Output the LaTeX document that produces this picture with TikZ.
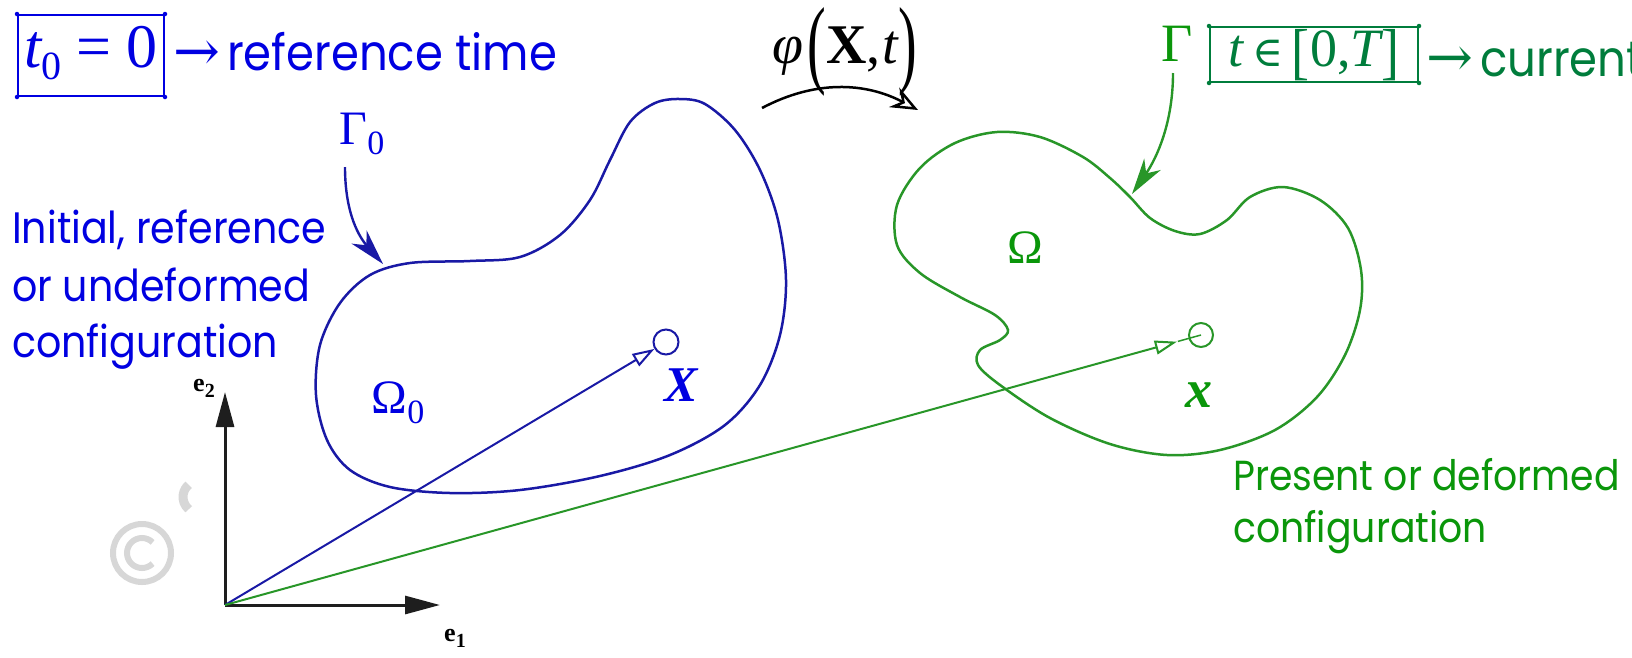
\documentclass[tikz,border=0pt]{standalone}
\usepackage{fontspec}
\usepackage{graphicx}
\usetikzlibrary{arrows.meta,calc}
\newfontfamily\fut[FakeStretch=0.9]{Poppins}
\newfontfamily\tms{Liberation Serif}
\newfontfamily\dvs{DejaVu Serif}
\newcommand\fsz[1]{\fontsize{#1}{#1}\selectfont}
\definecolor{tblue}{RGB}{0,0,225}
\definecolor{cblue}{RGB}{25,25,165}
\definecolor{tgreen}{RGB}{10,150,10}
\definecolor{cgreen}{RGB}{40,150,40}
\definecolor{dgreen}{RGB}{0,125,60}
\definecolor{axiscol}{RGB}{30,30,30}
\definecolor{wmcol}{RGB}{215,215,215}
\tikzset{
  curveline/.style={line width=2.5},
  vecline/.style={line width=2},
  openhead/.style={-{Triangle[open,length=22pt,width=14pt]}},
  bighead/.style={-{Stealth[length=36pt,width=20pt,inset=11pt]}},
  axisline/.style={axiscol,line width=3,-{Triangle[length=35pt,width=18pt]}},
  txt/.style={font=\fut\fsz{44},anchor=base west,inner sep=0},
  framebox/.style={line width=2,inner sep=0},
  cornerdot/.style={circle,fill,inner sep=0,minimum size=4.5},
  ptcircle/.style={circle,draw,line width=2,inner sep=0,minimum size=25},
  symlab/.style={inner sep=0}
}
\begin{document}
\begin{tikzpicture}[x=1pt,y=-1pt]
\useasboundingbox (0,0) rectangle (1632,657);

% watermark remnant
\draw[wmcol,line width=6] (142,553) circle[radius=29];
\draw[wmcol,line width=6] (142,553) ++(45:15) arc[start angle=45,end angle=315,radius=15];
\draw[wmcol,line width=9] (199,497) ++(130:16) arc[start angle=130,end angle=230,radius=16];

% boundaries
\draw[cblue,curveline] plot[smooth cycle,tension=0.55] coordinates {
 (655,103) (680,99) (705,104) (735,130) (760,170) (778,220) (786,280)
 (780,335) (760,385) (725,425) (670,455) (600,476) (520,490) (450,493)
 (390,487) (350,470) (327,440) (316,395) (320,345) (340,303) (370,275)
 (410,263) (470,261) (520,257) (560,235) (590,200) (610,160) (630,122)};
\draw[cgreen,curveline] plot[smooth cycle,tension=0.55] coordinates {
 (997,132) (1040,137) (1083,157) (1110,178) (1130,197) (1150,218) (1175,231)
 (1200,234) (1227,220) (1250,197) (1283,187) (1320,200) (1348,228) (1361,270)
 (1360,310) (1345,355) (1317,397) (1275,430) (1220,450) (1167,455) (1110,444)
 (1050,418) (1000,385) (978,365) (980,350) (1000,340) (1008,330) (995,315)
 (960,297) (920,273) (897,245) (897,205) (920,168) (955,143)};

% axes
\coordinate (O) at (225,605);
\coordinate (e2tip) at (225,392);
\coordinate (e1tip) at (440,605);
\draw[axisline] (O) -- (e2tip);
\draw[axisline] (O) -- (e1tip);
\node[symlab,font=\tms\bfseries\fsz{26}] (e2lab) at (204,388) {e\raisebox{-6pt}{\fsz{20}2}};
\node[symlab,font=\tms\bfseries\fsz{26}] (e1lab) at (455,638) {e\raisebox{-6pt}{\fsz{20}1}};

% material points
\node[ptcircle,cblue] (Xc) at (666,342) {};
\node[ptcircle,cgreen,minimum size=24] (xc) at (1201,335) {};
\draw[cblue,vecline,openhead] (O) -- (Xc);
\draw[cgreen,vecline,openhead,shorten >=12pt] (O) -- (xc);
\draw[cgreen,line width=1.5] ($(xc.center)!24pt!(O)$) -- (xc.center);

% Gamma arrows
\coordinate (g0s) at (345,167);
\coordinate (g0e) at (383,264);
\draw[cblue,line width=2.4,bighead] (g0s) .. controls (345,215) and (360,238) .. (g0e);
\coordinate (gs) at (1173,73);
\coordinate (ge) at (1132,194);
\draw[cgreen,line width=2.4,bighead] (gs) .. controls (1173,130) and (1152,165) .. (ge);

% mapping arrow
\coordinate (ms) at (762,108);
\coordinate (me) at (918,110);
\draw[black,line width=2.5,-{Stealth[open,length=27pt,width=22pt,inset=9pt]}] (ms) .. controls (815,80) and (865,82) .. (me);

% labels
\node[symlab,text=tblue,font=\tms\fsz{48}] (G0) at (362,134) {Γ\raisebox{-10pt}{\fsz{34}0}};
\node[symlab,text=tblue,font=\tms\fsz{48}] (O0) at (398,403) {Ω\raisebox{-10pt}{\fsz{34}0}};
\node[symlab,text=tblue,font=\tms\bfseries\itshape\fsz{50}] (Xlab) at (681,385) {X};
\node[symlab,text=tgreen,font=\tms\fsz{54}] (G) at (1177,44) {Γ};
\node[symlab,text=tgreen,font=\tms\fsz{48}] (Om) at (1025,248) {Ω};
\node[symlab,text=tgreen,font=\tms\bfseries\itshape\fsz{54}] (xlab) at (1199,395) {x};

\node[symlab,font=\tms\fsz{56}] (phi) at (845,52) {{\itshape φ}\hspace{4pt}\raisebox{-12pt}{\scalebox{1}[1.75]{(}}{\bfseries X},\hspace{2pt}{\itshape t}\raisebox{-12pt}{\scalebox{1}[1.75]{)}}};

% boxes
\node[framebox,draw=tblue,minimum width=146,minimum height=81] (b1) at (91,55.5) {};
\node[symlab,text=tblue,font=\tms\fsz{62}] (b1t) at (91,53) {{\itshape t}\raisebox{-12pt}{\fsz{40}0}\hspace{15pt}=\hspace{15pt}0};
\foreach \c in {north west,north east,south west,south east}{\node[cornerdot,tblue] at (b1.\c) {};}
\node[txt,text=tblue,font=\fut\fsz{50}] (reft) at (173,70) {{\dvs\fsz{56}→}\hspace{7pt}reference time};

\node[framebox,draw=dgreen,minimum width=208,minimum height=55] (b2) at (1314,54.5) {};
\node[symlab,text=dgreen,font=\tms\fsz{54}] (b2t) at (1314,55) {{\itshape t}\hspace{9pt}{\dvs\fsz{42}∈}\hspace{8pt}\raisebox{-6pt}{\scalebox{1}[1.15]{[}}\hspace{1pt}0,{\itshape T}\hspace{1pt}\raisebox{-6pt}{\scalebox{1}[1.15]{]}}};
\foreach \c in {north west,north east,south west,south east}{\node[cornerdot,dgreen] at (b2.\c) {};}
\node[txt,text=dgreen,font=\fut\fsz{50}] (curt) at (1426,76) {{\dvs\fsz{56}→}\hspace{7pt}current};

% descriptions
\node[txt,text=tblue] (d1) at (12,243) {Initial, reference};
\node[txt,text=tblue] (d2) at (12,301) {or undeformed};
\node[txt,text=tblue] (d3) at (12,357) {configuration};
\node[txt,text=tgreen,font=\fut\fsz{42}] (d4) at (1233,490) {Present or deformed};
\node[txt,text=tgreen,font=\fut\fsz{42}] (d5) at (1233,542) {configuration};
\end{tikzpicture}
\end{document}
